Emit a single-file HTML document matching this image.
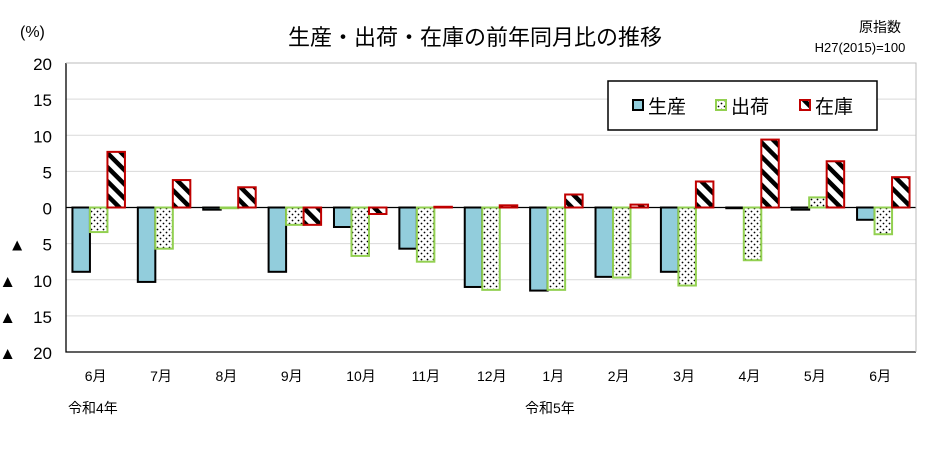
<!DOCTYPE html>
<html><head><meta charset="utf-8"><style>
body{margin:0;background:#fff;width:932px;height:445px;overflow:hidden;font-family:"Liberation Sans","Noto Sans CJK JP",sans-serif}
</style></head><body>
<svg width="932" height="445" xmlns="http://www.w3.org/2000/svg">
<defs>
<pattern id="dots" width="6" height="6" patternUnits="userSpaceOnUse"><rect width="6" height="6" fill="#fff"/><circle cx="1.5" cy="1.5" r="0.9" fill="#000"/><circle cx="4.5" cy="4.5" r="0.9" fill="#000"/></pattern>
<pattern id="hatch" width="10" height="10" patternUnits="userSpaceOnUse" patternTransform="rotate(45)"><rect width="10" height="10" fill="#fff"/><rect x="0" y="0" width="10" height="4.5" fill="#000"/></pattern>
</defs>
<text x="475" y="45" font-size="22" text-anchor="middle" font-family="Liberation Sans,Noto Sans CJK JP,sans-serif">生産・出荷・在庫の前年同月比の推移</text>
<text x="20" y="37" font-size="16">(%)</text>
<text x="880" y="32" font-size="14" text-anchor="middle">原指数</text>
<text x="860" y="52" font-size="13" text-anchor="middle">H27(2015)=100</text>
<g id="grid"></g>
<g id="bars"></g>
<g id="axes"></g>
<g>
<rect x="608" y="81" width="269" height="49" fill="#fff" stroke="#000" stroke-width="1.5"/>
<rect x="633" y="100" width="10" height="10" fill="#92CDDC" stroke="#000" stroke-width="2"/>
<text x="648" y="113" font-size="19">生産</text>
<rect x="716" y="100" width="10" height="10" fill="url(#dots)" stroke="#92D050" stroke-width="2"/>
<text x="731" y="113" font-size="19">出荷</text>
<rect x="800" y="100" width="10" height="10" fill="url(#hatch)" stroke="#C00000" stroke-width="2"/>
<text x="815" y="113" font-size="19">在庫</text>
</g>
<text x="68" y="413" font-size="14">令和4年</text>
<text x="525" y="413" font-size="14">令和5年</text>
</svg>
<script>
const categories=["6月","7月","8月","9月","10月","11月","12月","1月","2月","3月","4月","5月","6月"];
const production=[-8.9,-10.3,-0.3,-8.9,-2.7,-5.7,-11.0,-11.5,-9.6,-8.9,-0.1,-0.3,-1.7];
const shipment=[-3.4,-5.7,-0.1,-2.4,-6.7,-7.5,-11.4,-11.4,-9.7,-10.8,-7.3,1.4,-3.7];
const inventory=[7.7,3.8,2.8,-2.4,-0.9,0.1,0.3,1.8,0.4,3.6,9.4,6.4,4.2];
const yTicks=[20,15,10,5,0,-5,-10,-15,-20];
const yLabels=["20","15","10","5","0","▲　5","▲　10","▲　15","▲　20"];
const NS="http://www.w3.org/2000/svg";
const X0=66,X1=916,Y0=63,Y1=352;
const band=(X1-X0)/categories.length;
function y(v){return Y0+(20-v)/40*(Y1-Y0);}
function xc(i){return X0+band*(i+0.5);}
function mk(tag,attrs,parent){const e=document.createElementNS(NS,tag);for(const k in attrs)e.setAttribute(k,attrs[k]);document.getElementById(parent).appendChild(e);return e;}
yTicks.forEach((t,i)=>{
 const l=mk('line',{x1:X0,x2:X1,y1:y(t),y2:y(t),stroke:t===0?'#000':'#d9d9d9','stroke-width':t===0?1.3:1},'grid');
 
 
 const tx=mk('text',{x:52,y:y(t)+7,'font-size':17,'text-anchor':'end'},'axes');
 tx.textContent=yLabels[i];
 
 
});
const ax=mk('path',{d:`M${X0} ${Y0}V${Y1}H${X1}`,fill:'none',stroke:'#000','stroke-width':1.3},'axes');


const rb=mk('path',{d:`M${X0} ${Y0}H${X1}V${Y1}`,fill:'none',stroke:'#bbb','stroke-width':1},'axes');


const bw=17.5;
const series=[[production,'#92CDDC','#000','production'],[shipment,'url(#dots)','#92D050','shipment'],[inventory,'url(#hatch)','#C00000','inventory']];
categories.forEach((c,i)=>{
 series.forEach((s,k)=>{
  const v=s[0][i];const x=xc(i)-1.5*bw+k*bw;
  const top=Math.min(y(v),y(0)),h=Math.abs(y(v)-y(0));
  const r=mk('rect',{x:x,y:top,width:bw,height:Math.max(h,0.5),fill:s[1],stroke:s[2],'stroke-width':2},'bars');
  
  
 });
 const t=mk('text',{x:xc(i)-14,y:381,'font-size':14},'axes');
 t.textContent=c;
 
 
});
</script>
</body></html>
